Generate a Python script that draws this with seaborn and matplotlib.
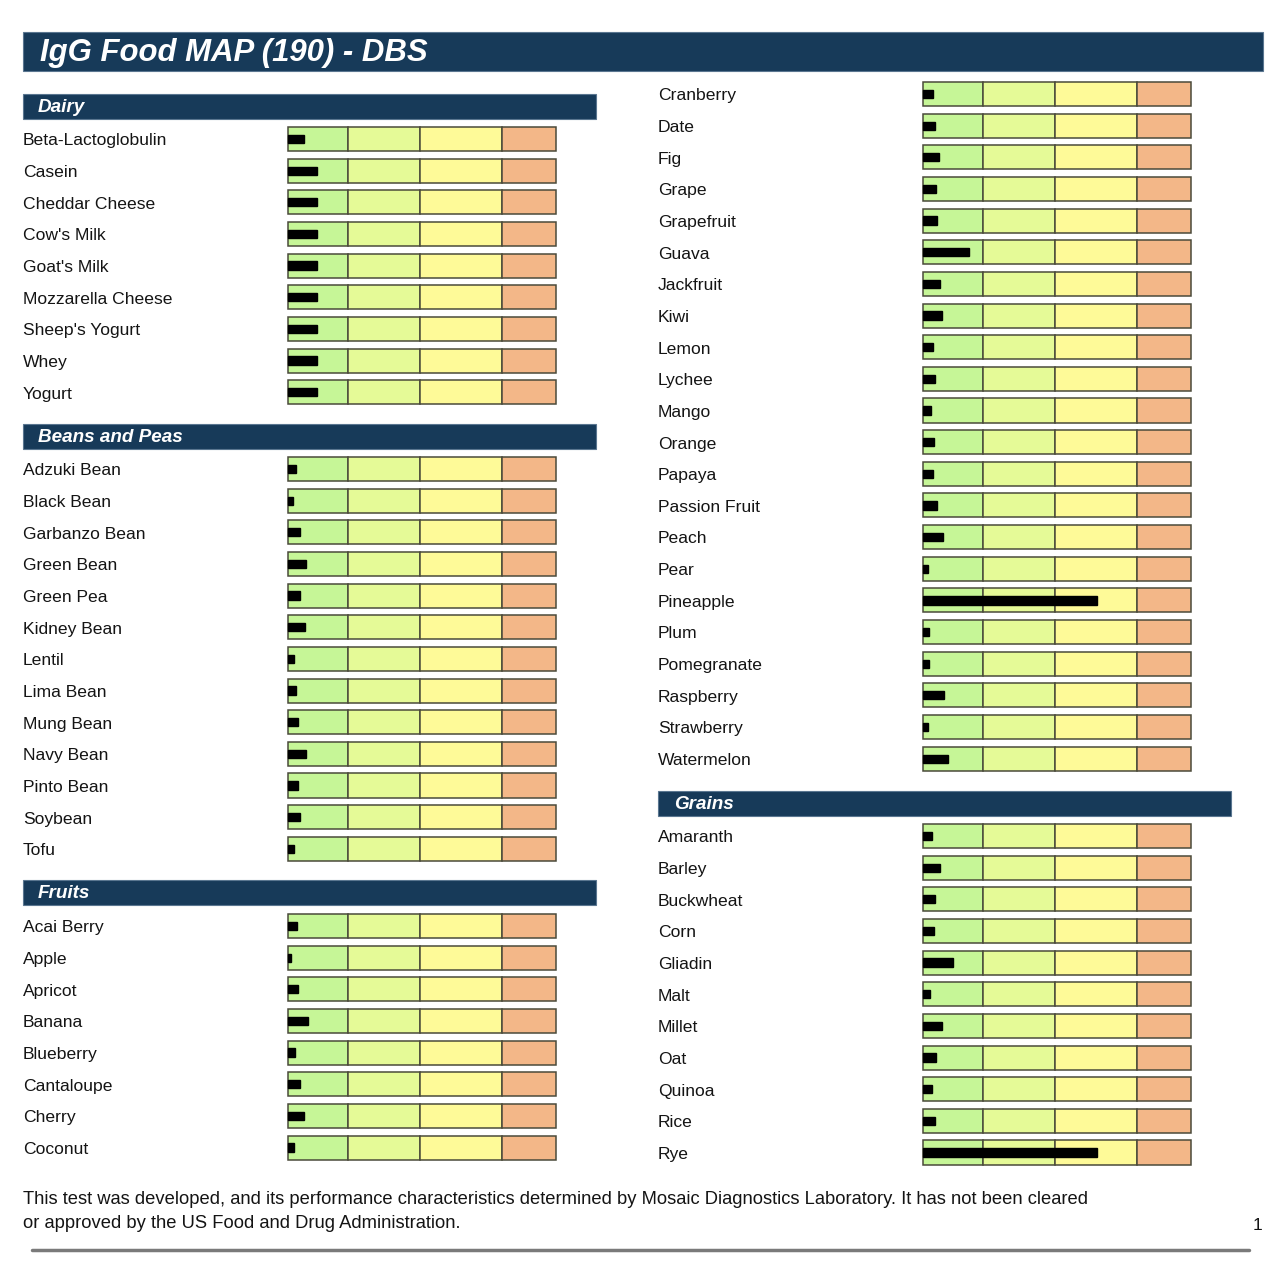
import matplotlib
matplotlib.use("Agg")
import matplotlib.pyplot as plt
import matplotlib.transforms as mtransforms
from matplotlib.patches import Rectangle
import seaborn as sns
import pandas as pd

# ---------------- data ----------------
TITLE = "IgG Food MAP (190) - DBS"

ZONE_WIDTHS = [60, 73, 83, 54]
ZONE_COLORS = ["#c6f697", "#e5fa97", "#fefa98", "#f3b788"]

dairy_foods = ["Beta-Lactoglobulin", "Casein", "Cheddar Cheese", "Cow's Milk", "Goat's Milk",
               "Mozzarella Cheese", "Sheep's Yogurt", "Whey", "Yogurt"]
dairy_vals = [16, 29, 29, 29, 29, 29, 29, 29, 29]

beans_foods = ["Adzuki Bean", "Black Bean", "Garbanzo Bean", "Green Bean", "Green Pea", "Kidney Bean",
               "Lentil", "Lima Bean", "Mung Bean", "Navy Bean", "Pinto Bean", "Soybean", "Tofu"]
beans_vals = [8, 5, 12.5, 18, 12, 17, 6.5, 8, 10, 18, 10.5, 12.5, 6.5]

fruits1_foods = ["Acai Berry", "Apple", "Apricot", "Banana", "Blueberry", "Cantaloupe", "Cherry", "Coconut"]
fruits1_vals = [9, 3.5, 10, 20.5, 7, 12.3, 16, 5.7]

fruits2_foods = ["Cranberry", "Date", "Fig", "Grape", "Grapefruit", "Guava", "Jackfruit", "Kiwi", "Lemon",
                 "Lychee", "Mango", "Orange", "Papaya", "Passion Fruit", "Peach", "Pear", "Pineapple",
                 "Plum", "Pomegranate", "Raspberry", "Strawberry", "Watermelon"]
fruits2_vals = [10, 12, 16, 12.7, 14.3, 46.7, 16.7, 18.7, 9.7, 12, 8, 11.3, 10, 14.3, 20, 5.3, 175,
                5.6, 6, 21.3, 5.3, 25]

grains_foods = ["Amaranth", "Barley", "Buckwheat", "Corn", "Gliadin", "Malt", "Millet", "Oat",
                "Quinoa", "Rice", "Rye"]
grains_vals = [9.3, 16.7, 11.6, 10.6, 30.6, 6.7, 18.7, 13.6, 9.3, 11.6, 175]

section_names = ["Dairy", "Beans and Peas", "Fruits", "Grains"]

FOOTER_1 = ("This test was developed, and its performance characteristics determined by Mosaic "
            "Diagnostics Laboratory. It has not been cleared")
FOOTER_2 = "or approved by the US Food and Drug Administration."
PAGE = "1"

# ---------------- layout ----------------
W, H = 1286, 1280
NAVY = "#173a59"
ROW = 31.65
FONT = ["Liberation Sans", "DejaVu Sans"]

sns.set_style("white")
plt.rcParams["font.family"] = FONT

fig = plt.figure(figsize=(W / 100, H / 100), dpi=100)
fig.patch.set_facecolor("white")


def fx(x):
    return x / W


def fy(y):
    return 1 - y / H


def banner(x0, y0, x1, y1, text, size, tx, dy=0):
    fig.patches.append(Rectangle((fx(x0), fy(y1)), fx(x1 - x0), (y1 - y0) / H,
                                 transform=fig.transFigure, facecolor=NAVY,
                                 edgecolor="#5a7690", lw=0.8, zorder=1))
    fig.text(fx(tx), fy((y0 + y1) / 2 + dy), text, color="white", fontsize=size,
             fontweight="bold", fontstyle="italic", va="center", ha="left", zorder=2)


def section(foods, vals, bar_x0, label_x, first_center):
    n = len(foods)
    top = first_center - ROW / 2
    h = n * ROW
    width = sum(ZONE_WIDTHS)
    ax = fig.add_axes([fx(bar_x0), fy(top + h), fx(width), h / H])
    ypos = list(range(n))
    left = 0
    for zw, zc in zip(ZONE_WIDTHS, ZONE_COLORS):
        ax.barh(ypos, [zw] * n, left=left, height=0.76, color=zc,
                edgecolor="#4a4a3a", linewidth=1.1, zorder=1)
        left += zw
    df = pd.DataFrame({"food": foods, "value": vals})
    sns.barplot(data=df, x="value", y="food", orient="h", color="black",
                width=0.26, ax=ax, zorder=3)
    for p in ax.patches[-n:]:
        p.set_zorder(3)
        p.set_facecolor("black")
        p.set_edgecolor("black")
    ax.set_xlim(-1, width + 1)
    ax.set_ylim(n - 0.5, -0.5)
    ax.set_xticks([])
    ax.set_yticks([])
    ax.set_xlabel("")
    ax.set_ylabel("")
    for s in ax.spines.values():
        s.set_visible(False)
    ax.patch.set_alpha(0)
    trans = mtransforms.blended_transform_factory(fig.transFigure, ax.transData)
    for i, f in enumerate(foods):
        ax.text(fx(label_x), i + 0.06, f, transform=trans, ha="left", va="center",
                fontsize=12.6, color="#141414", clip_on=False)
    return ax


# title
banner(23, 32, 1263, 71, TITLE, 22.4, 40, dy=1)

# left column
banner(23, 94, 596, 119, section_names[0], 13.6, 38, dy=1)
section(dairy_foods, dairy_vals, 287, 23, 139)
banner(23, 424, 596, 449, section_names[1], 13.6, 38, dy=1)
section(beans_foods, beans_vals, 287, 23, 469)
banner(23, 880, 596, 905, section_names[2], 13.6, 38, dy=1)
section(fruits1_foods, fruits1_vals, 287, 23, 926)

# right column
section(fruits2_foods, fruits2_vals, 922, 658, 94)
banner(658, 791, 1231, 816, section_names[3], 13.6, 674, dy=1)
section(grains_foods, grains_vals, 922, 658, 836)

# footer
fig.text(fx(23), fy(1200), FOOTER_1, fontsize=13.2, color="#141414", va="center", ha="left")
fig.text(fx(23), fy(1223), FOOTER_2, fontsize=13.2, color="#141414", va="center", ha="left")
fig.text(fx(1258), fy(1226), PAGE, fontsize=12.6, color="#141414", va="center", ha="center")
fig.lines.append(plt.Line2D([fx(32), fx(1249)], [fy(1250), fy(1250)], transform=fig.transFigure,
                            color="#7a7a7a", lw=2.5))

fig.savefig("out.png", dpi=100, facecolor="white")
